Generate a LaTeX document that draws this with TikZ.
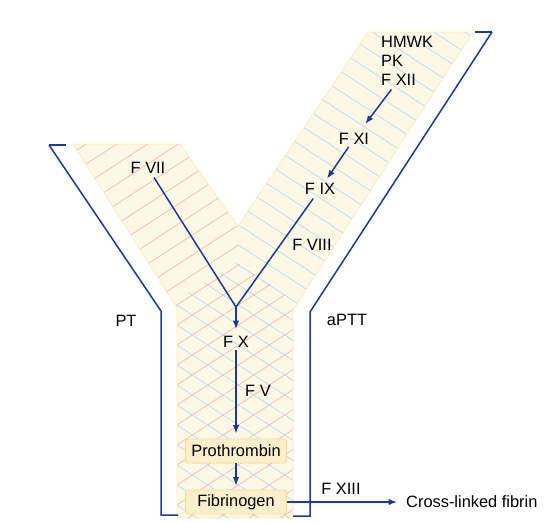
\documentclass[tikz,border=0pt]{standalone}
\usepackage{fontspec}
\setmainfont{Liberation Sans}
\usepackage{tikz}
\usetikzlibrary{positioning, arrows.meta}
\definecolor{navy}{HTML}{1C3A94}
\definecolor{cream}{HTML}{FDF7E6}
\definecolor{creamline}{HTML}{F9EABB}
\definecolor{pinkhatch}{HTML}{F1B9B6}
\definecolor{bluehatch}{HTML}{B3DCEE}
\definecolor{boxfill}{HTML}{FCF0CC}
\definecolor{boxline}{HTML}{F6DC96}
\newcommand{\lblS}{\fontsize{16.4}{19}\selectfont}

\begin{document}
\begin{tikzpicture}[x=1pt, y=-1pt,
    lbl/.style={font=\lblS, inner sep=2pt, text=black},
    factorbox/.style={draw=boxline, fill=boxfill, rounded corners=3pt, line width=0.8pt,
      minimum width=101pt, minimum height=24pt, inner sep=0pt, font=\lblS},
    bracket/.style={draw=navy, line width=1.5pt},
    link/.style={draw=navy, line width=1.5pt},
    flow/.style={link, -{Latex[length=8.5pt, width=6.5pt]}},
    hatch/.style={line width=0.7pt}]
  \useasboundingbox (0,0) rectangle (550,523);

  % the Y band
  \fill[cream] (73,144) -- (180,144) -- (238,226) -- (368,32) -- (473,32)
    -- (293,310) -- (293,518) -- (177,518) -- (177,308) -- cycle;
  \begin{scope}
    \clip (73,144) -- (180,144) -- (238,226) -- (238,262) -- (293,300)
      -- (293,518) -- (177,518) -- (177,308) -- cycle;
    \foreach \i in {0,...,29}
      \draw[hatch, pinkhatch] (0,{180+20*\i}) -- (550,{180+20*\i-357.5});
  \end{scope}
  \begin{scope}
    \clip (368,32) -- (473,32) -- (293,310) -- (293,518) -- (177,518)
      -- (177,300) -- (238,262) -- (238,226) -- cycle;
    \foreach \i in {0,...,36}
      \draw[hatch, bluehatch] (0,{-290+20*\i}) -- (550,{-290+20*\i+357.5});
  \end{scope}
  \draw[creamline, line width=0.7pt] (73,144) -- (180,144) -- (238,226) -- (368,32)
    -- (473,32) -- (293,310) -- (293,518) -- (177,518) -- (177,308) -- cycle;

  % brackets
  \draw[bracket] (49,145) -- (66,145);
  \draw[bracket] (49,145) -- (161,311) -- (161,515) -- (178,515);
  \draw[bracket] (475,32) -- (492,32);
  \draw[bracket] (492,32) -- (310,312) -- (310,516) -- (293,516);

  % factors
  \node[lbl, anchor=west] (hmwk) at (379,42) {HMWK};
  \node[lbl, anchor=west] (pk) at ([yshift=-19pt]hmwk.west) {PK};
  \node[lbl, anchor=west] (fxii) at ([yshift=-19pt]pk.west) {F XII};
  \node[lbl] (fxi) at (354,139) {F XI};
  \node[lbl] (fix) at (320,189) {F IX};
  \node[lbl] (fviii) at (312,245) {F VIII};
  \node[lbl] (fvii) at (148,168) {F VII};
  \coordinate (jn) at (236,307);
  \node[lbl] (fx) at (236,342) {F X};
  \node[lbl] (fv) at (258,391) {F V};
  \node[factorbox] (prothr) at (236,451) {Prothrombin};
  \node[factorbox] (fibrin) at (236,502) {Fibrinogen};
  \node[lbl] (fxiii) at (341,489) {F XIII};
  \node[lbl, anchor=west] (xfibrin) at (404,502) {Cross-linked fibrin};
  \node[lbl] (pt) at (126,321) {PT};
  \node[lbl] (aptt) at (347,320) {aPTT};

  \draw[flow, shorten <=2pt, shorten >=9pt] (fxii) -- (fxi);
  \draw[flow, shorten >=3pt] (fxi) -- (fix);
  \draw[link, shorten <=2pt] (fix) -- (jn);
  \draw[link, shorten <=2pt] (fvii) -- (jn);
  \draw[flow, shorten >=5pt] (jn) -- (fx);
  \draw[flow, shorten >=5pt] (fx) -- (prothr);
  \draw[flow, shorten >=4pt] (prothr) -- (fibrin);
  \draw[flow, shorten >=7pt] (fibrin) -- (xfibrin);
\end{tikzpicture}
\end{document}
